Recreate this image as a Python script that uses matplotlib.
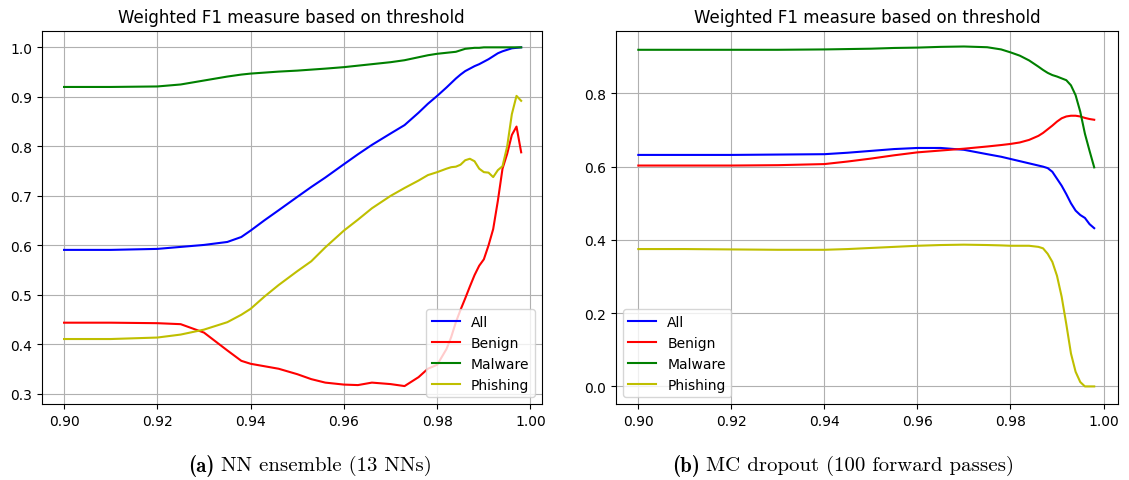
import matplotlib
matplotlib.use("Agg")
import matplotlib.pyplot as plt

# ---- (a) NN ensemble ----
thr_a = [0.900, 0.910, 0.920, 0.925, 0.930, 0.935, 0.938, 0.940, 0.943, 0.946,
         0.950, 0.953, 0.956, 0.960, 0.963, 0.966, 0.970, 0.973, 0.976, 0.978,
         0.980, 0.982, 0.983, 0.984, 0.985, 0.986, 0.987, 0.988, 0.989, 0.990,
         0.991, 0.992, 0.993, 0.994, 0.995, 0.996, 0.997, 0.998]
all_a = [0.591, 0.591, 0.593, 0.597, 0.601, 0.607, 0.617, 0.630, 0.651, 0.671,
         0.698, 0.718, 0.737, 0.764, 0.784, 0.803, 0.826, 0.843, 0.868, 0.886,
         0.902, 0.919, 0.928, 0.937, 0.945, 0.952, 0.957, 0.962, 0.966, 0.971,
         0.976, 0.982, 0.988, 0.992, 0.995, 0.998, 0.999, 1.000]
benign_a = [0.444, 0.444, 0.443, 0.441, 0.424, 0.388, 0.367, 0.361, 0.356, 0.351,
            0.340, 0.330, 0.323, 0.319, 0.318, 0.323, 0.320, 0.316, 0.334, 0.351,
            0.359, 0.391, 0.415, 0.445, 0.470, 0.493, 0.517, 0.540, 0.559, 0.572,
            0.600, 0.633, 0.690, 0.755, 0.785, 0.823, 0.840, 0.788]
malware_a = [0.920, 0.920, 0.921, 0.925, 0.933, 0.941, 0.945, 0.947, 0.949, 0.951,
             0.953, 0.955, 0.957, 0.960, 0.963, 0.966, 0.970, 0.974, 0.980, 0.984,
             0.987, 0.989, 0.990, 0.991, 0.994, 0.997, 0.998, 0.999, 0.999, 1.000,
             1.000, 1.000, 1.000, 1.000, 1.000, 1.000, 1.000, 1.000]
phishing_a = [0.411, 0.411, 0.414, 0.420, 0.430, 0.445, 0.460, 0.472, 0.497, 0.520,
              0.548, 0.568, 0.596, 0.630, 0.652, 0.675, 0.700, 0.716, 0.731, 0.742,
              0.748, 0.755, 0.758, 0.759, 0.763, 0.772, 0.775, 0.770, 0.755, 0.748,
              0.747, 0.738, 0.752, 0.760, 0.800, 0.865, 0.902, 0.892]

# ---- (b) MC dropout ----
thr_b = [0.900, 0.910, 0.920, 0.930, 0.940, 0.945, 0.950, 0.955, 0.960, 0.965,
         0.970, 0.975, 0.978, 0.980, 0.982, 0.984, 0.986, 0.987, 0.988, 0.989,
         0.990, 0.991, 0.992, 0.993, 0.994, 0.995, 0.996, 0.997, 0.998]
all_b = [0.632, 0.632, 0.632, 0.633, 0.634, 0.638, 0.643, 0.648, 0.651, 0.651,
         0.646, 0.634, 0.627, 0.621, 0.615, 0.609, 0.603, 0.600, 0.596, 0.586,
         0.567, 0.548, 0.525, 0.500, 0.480, 0.468, 0.460, 0.443, 0.432]
benign_b = [0.603, 0.603, 0.603, 0.604, 0.607, 0.614, 0.622, 0.631, 0.639, 0.644,
            0.649, 0.655, 0.659, 0.662, 0.666, 0.673, 0.684, 0.692, 0.702, 0.712,
            0.723, 0.732, 0.737, 0.739, 0.739, 0.737, 0.733, 0.730, 0.728]
malware_b = [0.919, 0.919, 0.919, 0.919, 0.920, 0.921, 0.922, 0.924, 0.925, 0.927,
             0.928, 0.926, 0.920, 0.912, 0.903, 0.890, 0.873, 0.864, 0.856, 0.850,
             0.846, 0.841, 0.836, 0.822, 0.795, 0.750, 0.690, 0.643, 0.598]
phishing_b = [0.375, 0.375, 0.374, 0.373, 0.373, 0.375, 0.378, 0.381, 0.384, 0.386,
              0.387, 0.386, 0.385, 0.384, 0.384, 0.384, 0.381, 0.377, 0.362, 0.340,
              0.302, 0.245, 0.170, 0.090, 0.040, 0.012, 0.000, 0.000, 0.000]

labels = ["All", "Benign", "Malware", "Phishing"]
colors = ["b", "r", "g", "y"]
title = "Weighted F1 measure based on threshold"
caption_tags = ["(a)", "(b)"]
caption_texts = ["NN ensemble (13 NNs)", "MC dropout (100 forward passes)"]

fig = plt.figure(figsize=(11.29, 4.81), dpi=100)
ax1 = fig.add_axes([0.0369, 0.158, 0.4429, 0.776])
ax2 = fig.add_axes([0.5456, 0.158, 0.4446, 0.776])

for ax, thr, series, loc in [
        (ax1, thr_a, [all_a, benign_a, malware_a, phishing_a], "lower right"),
        (ax2, thr_b, [all_b, benign_b, malware_b, phishing_b], "lower left")]:
    for ys, lab, c in zip(series, labels, colors):
        ax.plot(thr, ys, color=c, label=lab, linewidth=1.5)
    ax.set_title(title, fontsize=12)
    ax.grid(True)
    ax.set_xticks([0.90, 0.92, 0.94, 0.96, 0.98, 1.00])
    ax.tick_params(labelsize=10)
    ax.legend(loc=loc, fontsize=10)

ax1.set_xlim(0.8952, 1.0024)
ax1.set_ylim(0.2798, 1.0335)
ax2.set_xlim(0.8952, 1.0031)
ax2.set_ylim(-0.048, 0.971)
ax2.set_yticks([0.0, 0.2, 0.4, 0.6, 0.8])

# captions: bold tag (cmb10) followed by regular text (cmr10), centered as a whole
fig.canvas.draw()
renderer = fig.canvas.get_renderer()
W = fig.bbox.width
for cx, tag, txt in zip([0.2746, 0.747], caption_tags, caption_texts):
    t1 = fig.text(0, 0.031, tag, ha="left", va="center", fontsize=15,
                  family="cmb10")
    t2 = fig.text(0, 0.031, txt, ha="left", va="center", fontsize=15,
                  family="cmr10")
    w1 = t1.get_window_extent(renderer).width
    w2 = t2.get_window_extent(renderer).width
    gap = 6.0
    total = w1 + gap + w2
    x0 = cx * W - total / 2
    t1.set_x(x0 / W)
    t2.set_x((x0 + w1 + gap) / W)

fig.savefig("out.png", dpi=100)
